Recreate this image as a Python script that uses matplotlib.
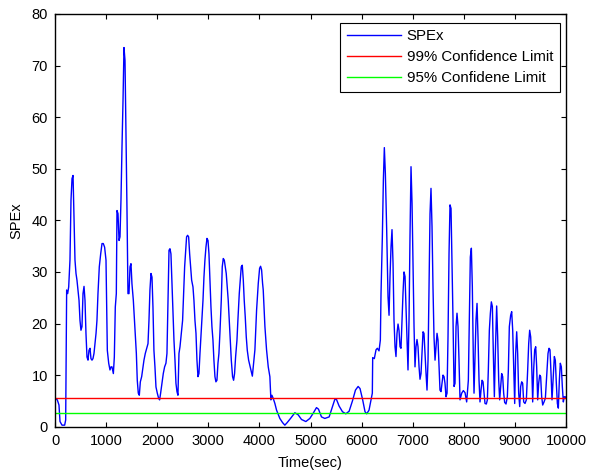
import matplotlib
matplotlib.use('Agg')
import matplotlib.pyplot as plt

plt.rcParams['font.family'] = ['Liberation Sans', 'DejaVu Sans']

time_sec = [
    0, 45, 78, 98, 137, 189, 209, 228, 248, 268, 293, 313, 333, 353, 372, 391, 411, 430, 450, 470,
    489, 508, 528, 548, 568, 587, 606, 626, 646, 665, 685, 704, 724, 743, 763, 783, 803, 821, 841, 867,
    894, 920, 945, 971, 998, 1024, 1051, 1076, 1096, 1115, 1142, 1161, 1180, 1200, 1213, 1233, 1253, 1272, 1291, 1311,
    1331, 1350, 1370, 1390, 1408, 1428, 1448, 1468, 1487, 1506, 1533, 1552, 1572, 1592, 1610, 1630, 1650, 1670, 1696, 1715,
    1741, 1767, 1794, 1820, 1839, 1858, 1878, 1898, 1917, 1936, 1956, 1976, 2002, 2028, 2047, 2067, 2093, 2119, 2145, 2171,
    2191, 2211, 2231, 2250, 2269, 2289, 2309, 2328, 2348, 2367, 2387, 2406, 2426, 2446, 2472, 2497, 2517, 2537, 2557, 2575,
    2595, 2615, 2635, 2654, 2674, 2700, 2719, 2739, 2759, 2778, 2798, 2817, 2837, 2856, 2876, 2896, 2915, 2934, 2954, 2974,
    2994, 3013, 3032, 3052, 3071, 3091, 3110, 3130, 3149, 3169, 3189, 3208, 3227, 3254, 3273, 3293, 3313, 3332, 3351, 3371,
    3390, 3410, 3430, 3450, 3475, 3495, 3514, 3534, 3561, 3579, 3606, 3625, 3645, 3665, 3685, 3703, 3723, 3743, 3763, 3789,
    3862, 3912, 3945, 3978, 4004, 4023, 4043, 4062, 4075, 4108, 4140, 4173, 4205, 4225, 4244, 4270, 4303, 4336, 4400, 4453,
    4498, 4544, 4609, 4694, 4759, 4824, 4909, 4987, 5052, 5117, 5156, 5215, 5280, 5365, 5430, 5476, 5508, 5560, 5626, 5691,
    5756, 5821, 5880, 5932, 5969, 6021, 6067, 6099, 6145, 6184, 6210, 6217, 6249, 6282, 6308, 6341, 6367, 6380, 6406, 6426,
    6445, 6465, 6491, 6517, 6537, 6556, 6576, 6595, 6615, 6634, 6654, 6673, 6693, 6713, 6732, 6752, 6771, 6791, 6810, 6830,
    6850, 6869, 6889, 6908, 6928, 6947, 6967, 6987, 7006, 7026, 7045, 7065, 7084, 7104, 7124, 7143, 7163, 7182, 7202, 7221,
    7241, 7261, 7280, 7300, 7319, 7339, 7358, 7378, 7397, 7417, 7437, 7456, 7476, 7495, 7515, 7534, 7554, 7574, 7593, 7613,
    7632, 7652, 7672, 7691, 7711, 7730, 7750, 7769, 7789, 7809, 7828, 7848, 7867, 7887, 7906, 7926, 7959, 7991, 8024, 8056,
    8089, 8109, 8128, 8148, 8167, 8187, 8200, 8220, 8239, 8259, 8278, 8298, 8317, 8337, 8357, 8376, 8396, 8415, 8441, 8461,
    8480, 8500, 8520, 8539, 8559, 8578, 8598, 8617, 8643, 8663, 8683, 8702, 8722, 8741, 8761, 8780, 8800, 8826, 8852, 8872,
    8891, 8917, 8937, 8957, 8976, 8996, 9015, 9035, 9054, 9074, 9094, 9113, 9133, 9152, 9172, 9198, 9224, 9250, 9270, 9289,
    9309, 9328, 9348, 9367, 9387, 9407, 9426, 9446, 9465, 9485, 9504, 9524, 9544, 9570, 9596, 9622, 9648, 9668, 9687, 9707,
    9726, 9746, 9772, 9791, 9811, 9831, 9850, 9870, 9889, 9909, 9928, 9948, 9967, 9987, 10000,
]

spex = [
    5.5, 5.2, 4.2, 1.0, 0.3, 0.3, 1.3, 26.5, 25.8, 27.1, 32.3, 43.9, 48.1, 48.7, 40.6, 32.3, 29.7, 28.4, 26.5, 24.5,
    20.6, 18.7, 19.4, 25.8, 27.2, 24.5, 18.1, 13.5, 12.9, 14.8, 15.2, 13.2, 12.9, 13.2, 14.2, 16.1, 18.1, 20.6, 25.8, 31.0,
    33.5, 35.5, 35.5, 34.8, 32.3, 14.8, 12.3, 11.0, 11.6, 11.6, 10.3, 13.5, 23.2, 25.8, 41.9, 41.3, 36.1, 36.8, 43.9, 54.2,
    63.2, 73.5, 71.0, 56.8, 42.6, 25.8, 25.8, 31.0, 31.6, 27.7, 24.5, 21.3, 18.1, 14.2, 9.0, 6.5, 6.1, 8.7, 9.7, 11.0,
    12.9, 14.2, 15.2, 16.1, 20.6, 26.5, 29.7, 29.0, 23.2, 14.8, 11.6, 7.7, 6.5, 5.5, 5.2, 6.5, 8.4, 10.3, 11.6, 12.3,
    14.2, 24.5, 34.2, 34.5, 33.5, 27.7, 21.3, 16.8, 12.9, 8.4, 6.8, 6.1, 14.2, 15.5, 18.1, 20.6, 25.8, 31.0, 34.2, 36.8,
    37.1, 36.8, 33.5, 31.0, 28.4, 27.1, 24.5, 20.6, 18.1, 12.9, 9.7, 10.3, 14.2, 17.4, 20.6, 24.5, 29.0, 32.3, 34.8, 36.5,
    36.1, 33.5, 28.4, 23.2, 19.4, 16.8, 12.9, 9.7, 8.7, 9.0, 12.3, 14.2, 18.1, 24.5, 31.0, 32.6, 32.3, 31.0, 29.7, 27.1,
    24.5, 20.6, 16.8, 12.9, 9.7, 9.0, 10.3, 13.5, 16.8, 20.6, 25.8, 28.4, 31.0, 31.3, 28.4, 24.5, 21.3, 17.4, 14.8, 12.9,
    9.8, 14.9, 22.6, 27.8, 30.7, 31.1, 30.4, 27.8, 26.5, 19.4, 14.9, 11.6, 9.7, 5.2, 6.1, 5.5, 4.5, 3.2, 1.6, 0.8,
    0.3, 0.8, 1.6, 2.7, 2.3, 1.4, 1.0, 1.6, 2.6, 3.7, 3.4, 1.9, 1.6, 1.9, 3.9, 5.3, 5.3, 4.0, 2.9, 2.5,
    3.0, 5.0, 7.1, 7.8, 7.4, 5.2, 2.9, 2.5, 3.2, 5.2, 6.5, 13.4, 13.2, 14.9, 15.2, 14.7, 16.8, 25.8, 36.8, 47.8,
    54.1, 49.1, 38.1, 25.2, 21.6, 29.1, 34.9, 38.2, 31.7, 20.7, 15.5, 13.6, 18.1, 19.9, 18.7, 15.5, 15.2, 20.7, 25.8, 30.0,
    29.1, 23.3, 16.8, 11.0, 20.7, 36.8, 50.4, 43.3, 31.7, 19.4, 11.6, 15.5, 16.9, 15.5, 11.6, 9.2, 10.3, 14.2, 18.4, 18.1,
    14.2, 10.3, 7.1, 12.9, 27.1, 41.3, 46.2, 38.8, 27.1, 17.4, 12.9, 15.5, 18.1, 16.8, 11.6, 7.1, 6.8, 8.4, 10.0, 9.7,
    8.4, 5.8, 6.5, 17.4, 33.6, 43.0, 42.3, 32.3, 20.7, 7.8, 8.4, 19.4, 22.0, 19.4, 12.9, 5.2, 6.5, 7.0, 6.6, 4.8,
    9.0, 20.7, 32.9, 34.6, 27.1, 12.9, 6.5, 14.2, 20.7, 23.9, 17.4, 9.0, 4.8, 7.1, 9.0, 8.7, 6.5, 4.5, 4.4, 5.2,
    11.0, 18.7, 22.0, 24.2, 23.3, 14.2, 5.8, 14.2, 23.4, 17.4, 9.0, 5.2, 7.8, 10.3, 9.7, 6.5, 4.7, 4.4, 5.8, 11.0,
    19.4, 21.6, 22.3, 18.7, 11.6, 4.5, 14.2, 18.4, 14.2, 6.5, 3.9, 7.8, 8.7, 8.4, 4.8, 4.5, 5.2, 11.0, 16.1, 18.7,
    17.4, 12.3, 4.8, 11.0, 14.9, 15.5, 11.6, 5.2, 8.4, 10.0, 9.7, 5.8, 4.2, 4.8, 5.5, 9.7, 14.2, 15.2, 14.9, 10.3,
    5.2, 9.0, 13.6, 12.9, 8.4, 4.5, 3.6, 9.0, 12.3, 11.6, 7.8, 4.8, 5.8, 5.8, 5.5,
]

limit_99 = 5.5
limit_95 = 2.6

x_ticks = list(range(0, 10001, 1000))
y_ticks = list(range(0, 81, 10))

fig = plt.figure(figsize=(5.96, 4.74), dpi=100)
ax = fig.add_axes([55 / 596, 1 - 426.7 / 474, 511 / 596, 412.7 / 474])

ax.plot(time_sec, spex, color='#0000ff', lw=1.0, label='SPEx')
ax.axhline(limit_99, color='#ff0000', lw=1.0, label='99% Confidence Limit')
ax.axhline(limit_95, color='#00ff00', lw=1.0, label='95% Confidene Limit')

ax.set_xlim(0, 10000)
ax.set_ylim(0, 80)
ax.set_xticks(x_ticks)
ax.set_yticks(y_ticks)
ax.tick_params(direction='in', top=True, right=True, length=3.5, width=0.8,
               labelsize=10.5, pad=5)
for s in ax.spines.values():
    s.set_linewidth(1.0)

ax.set_xlabel('Time(sec)', fontsize=10.5, labelpad=6)
ax.set_ylabel('SPEx', fontsize=10.5, labelpad=6)

leg = ax.legend(loc='upper right', bbox_to_anchor=(0.988, 0.979), borderaxespad=0,
                fancybox=False, framealpha=1, edgecolor='black', fontsize=10.8,
                handlelength=3.6, labelspacing=0.45, handletextpad=0.4,
                borderpad=0.45)
leg.get_frame().set_linewidth(0.8)

fig.savefig('out.png', dpi=100)
